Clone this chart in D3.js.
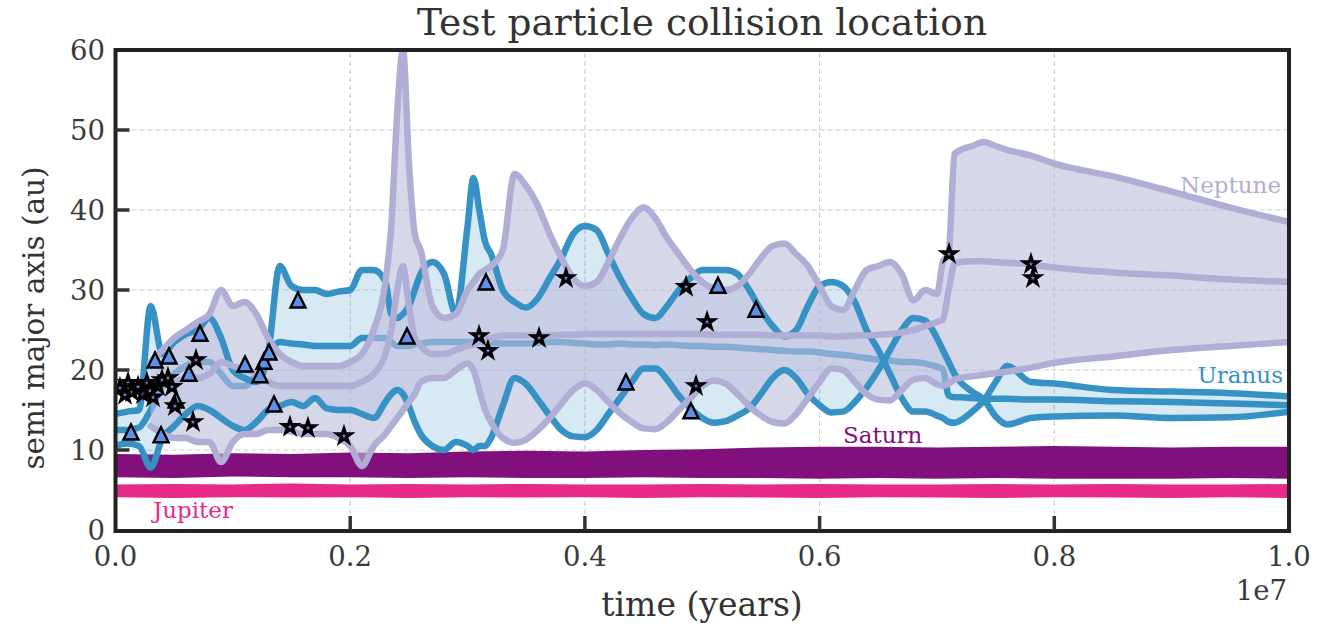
<!DOCTYPE html>
<html>
<head>
<meta charset="utf-8">
<script src="https://cdn.jsdelivr.net/npm/d3@7"></script>
<style>
  body { margin: 0; background: #fff; }
  svg text { font-family: "DejaVu Serif", serif; }
</style>
</head>
<body>
<div id="chart"></div>
<script>
// time in units of 1e7 years
const timeE7 = [0,.01,.02,.03,.04,.05,.06,.07,.08,.09,
  .10,.11,.12,.13,.14,.15,.16,.17,.18,.19,
  .20,.21,.22,.23,.235,.24,.245,.25,.255,.26,
  .27,.28,.29,.30,.305,.31,.315,.32,.33,.34,
  .35,.36,.37,.38,.39,.40,.41,.42,.43,.44,
  .45,.46,.47,.48,.49,.50,.51,.52,.53,.54,
  .55,.56,.57,.58,.59,.60,.61,.62,.63,.64,
  .65,.66,.67,.68,.69,.70,.705,.71,.715,.72,
  .73,.74,.75,.76,.78,.80,.85,.90,.95,1.0];

// Uranus: upper / semi-major axis / lower
const uranusHi = [14.5,14.8,15,28,22,23.5,24.5,25,26.5,24,
  20,19,18.5,22,33,30.5,30,30,29.5,29.8,
  30,32.5,32.5,31,27,26.5,27,28,30,32,
  33.5,32,27,38,44,40,36,34.5,30,28.5,
  27.8,29,31.5,34,37,38,37.5,34.5,31.5,29,
  27,26.5,28,30,31.5,32.5,32.5,32.5,32,30,
  27.5,25.5,24.2,25,28,30.5,31,30.5,28.5,25,
  22.5,19.5,16.5,14.8,14.8,14.3,14,13.5,13.4,13.7,
  14.8,16.2,18.5,20.5,18.5,18.3,17.5,17.3,17.1,16.7];
const uranusA = [12.5,12.5,12.8,15,18,19.5,20.5,21,21,19.5,
  18,18,19.5,22,23.5,23.3,23.2,23,23,23,
  23,24,24,24,23.5,23,23,23,23.2,23.3,
  23.5,23.5,23.5,23.5,23.5,23.5,23.4,23.4,23.3,23.3,
  23.3,23.4,23.5,23.5,23.4,23.3,23.2,23.2,23.3,23.2,
  23.2,23.1,23.2,23.1,23,23,22.9,22.9,22.8,22.7,
  22.6,22.5,22.4,22.3,22.3,22.2,22,21.9,21.7,21.5,
  21.3,21.2,21,21,20.8,20.4,20.1,16.8,16.6,16.6,
  16.5,16.4,16.4,16.4,16.3,16.3,16.1,16,15.8,15.6];
const uranusLo = [10.5,10.8,10.5,7.8,11.5,13,14.5,15.5,15,14,
  13,12.5,13.5,15,15.5,16,15.5,16.5,15.2,15,
  15,14.5,14,16,17,17.5,17,15.5,13.5,12,
  10.5,10,11,10.5,10,10.5,10.5,11.5,15.5,19,
  18.2,16.3,14.3,12.5,11.7,11.6,12.5,14.5,16.5,18.5,
  20.2,20.2,18.8,16.8,15.2,14,13.4,13.6,14.3,15.2,
  17,19,20,19,17,15.6,14.7,14.8,16,17.8,
  20,22.5,25,26.5,26.2,24,22.5,21,19.5,18.5,
  17.3,16.3,14.2,13.2,14,14.2,14.3,14,14.1,14.8];

// Neptune: upper / semi-major axis / lower
const neptuneHi = [null,null,null,21,22.5,24,25,26,27,30,
  28,28.5,27,24,22,21,20.5,20.5,20.5,20.5,
  21,22,25,31,38,52,60,46,37,35,
  28,26.5,27,30,31,32,32.5,33,35,44.5,
  43,40.5,37,34,31.5,30.5,31,33.5,36.5,39,
  40.3,39,36.5,34.5,32.5,31,30.2,30,30.5,32,
  34,35.5,35.8,34.5,33,30.5,28,27.5,30,32.5,
  33,33.5,32,28.7,30,29.5,33.5,34.6,47,47.5,
  48,48.5,48,47.5,46.8,45.8,44.2,42.3,40.3,38.5];
const neptuneA = [null,null,null,18,18.5,18.5,19,19,19.5,21,
  20.5,20,19.5,18.5,18,18,18,18,18,18,
  18,18.5,19.5,22,25,30,33,28,24,23,
  22,22,22.5,23,23.2,23.5,23.8,24,24.3,24.3,
  24.3,24.3,24.3,24.4,24.4,24.5,24.5,24.5,24.5,24.5,
  24.5,24.5,24.5,24.5,24.5,24.5,24.4,24.4,24.4,24.4,
  24.4,24.3,24.3,24.3,24.3,24.3,24.2,24.2,24.3,24.3,
  24.4,24.5,24.7,25,25.5,26,26.3,30,33.3,33.5,
  33.6,33.6,33.5,33.4,33.2,32.8,32.2,31.8,31.3,31];
const neptuneLo = [null,null,null,13,12,11.5,11.5,11,11,8.5,
  11,12,12,12.5,12.5,12.3,12,12,12,11.5,
  10.5,8,10.5,12,13,14,15,16,17,18.5,
  19,19,20,20.8,20,17.5,15,13.5,11.5,10.9,
  11.3,12.5,14,15.8,17.5,18.3,17.5,16,14.6,13.5,
  12.7,12.6,13.5,15,16.5,18,18.7,18.3,17,15.5,
  14.3,13.5,13.3,14.5,16.5,18.5,20.2,20,18.5,17,
  16.3,16.2,17.5,18.8,19,18.2,18,18.3,18.8,19,
  19.2,19.4,19.6,19.8,20.3,20.9,21.7,22.5,23,23.5];

// Saturn and Jupiter bands
const bandTime = [0,.05,.1,.15,.2,.25,.3,.35,.4,.45,.5,.55,.6,.65,.7,.75,.8,.85,.9,.95,1.0];
const saturnHi = [9.5,9.4,9.6,9.5,9.7,9.6,9.8,9.9,9.8,10.0,10.1,10.3,10.4,10.4,10.3,10.4,10.5,10.4,10.3,10.4,10.4];
const saturnLo = [6.6,6.5,6.7,6.6,6.6,6.5,6.6,6.5,6.5,6.6,6.5,6.5,6.4,6.5,6.4,6.5,6.4,6.4,6.4,6.5,6.4];
const jupiterHi = [5.7,5.75,5.7,5.8,5.7,5.75,5.7,5.75,5.7,5.7,5.75,5.7,5.75,5.7,5.7,5.75,5.7,5.75,5.7,5.7,5.75];
const jupiterLo = [4.1,4.0,4.1,4.05,4.1,4.0,4.1,4.05,4.1,4.0,4.1,4.05,4.0,4.1,4.05,4.0,4.1,4.05,4.0,4.1,4.0];

// collision markers [time (1e7 yr), a (au)]
const triangleHits = [[0.0132,12.25],[0.0388,11.9],[0.0337,21.25],[0.0456,21.75],[0.072,24.6],
  [0.0626,19.6],[0.0516,16.25],[0.1104,20.75],[0.1265,21.1],[0.1308,22.25],[0.1231,19.4],
  [0.1351,15.75],[0.1555,28.75],[0.2484,24.25],[0.3157,31],[0.435,18.5],[0.4904,14.9],
  [0.5134,30.6],[0.5458,27.6]];
const starHits = [[0.0038,17.75],[0.0081,16.9],[0.0107,18.4],[0.0141,17.25],[0.0192,17.9],
  [0.0234,17],[0.0268,18.4],[0.0294,17.4],[0.032,16.6],[0.0362,18],[0.0396,18.75],
  [0.0447,19],[0.0481,17.9],[0.0507,15.5],[0.0686,21.25],[0.066,13.5],[0.1487,12.9],
  [0.164,12.75],[0.1947,11.75],[0.3098,24.25],[0.3174,22.4],[0.3609,24],[0.3839,31.5],
  [0.4862,30.4],[0.5041,26],[0.4947,18],[0.7103,34.5],[0.7801,33.25],[0.7818,31.5]];

const xTicks = [0, 0.2, 0.4, 0.6, 0.8, 1.0];
const yTicks = [0, 10, 20, 30, 40, 50, 60];

const width = 1326, height = 624;
const x = d3.scaleLinear().domain([0, 1]).range([115.5, 1289]);
const y = d3.scaleLinear().domain([0, 60]).range([530, 50]);

const svg = d3.select("#chart").append("svg")
  .attr("width", width).attr("height", height);

svg.append("defs").append("clipPath").attr("id", "plot-clip")
  .append("rect")
  .attr("x", x(0)).attr("y", y(60))
  .attr("width", x(1) - x(0)).attr("height", y(0) - y(60));

// grid
const grid = svg.append("g")
  .attr("stroke", "#cfcfcf").attr("stroke-width", 1.2).attr("stroke-dasharray", "5,3");
grid.selectAll("line.gx").data(xTicks.slice(1, -1)).join("line")
  .attr("x1", d => x(d)).attr("x2", d => x(d)).attr("y1", y(0)).attr("y2", y(60));
grid.selectAll("line.gy").data(yTicks.slice(1, -1)).join("line")
  .attr("x1", x(0)).attr("x2", x(1)).attr("y1", d => y(d)).attr("y2", d => y(d));

const plot = svg.append("g").attr("clip-path", "url(#plot-clip)");

const bandArea = (hi, lo) => d3.area()
  .x((d, i) => x(bandTime[i]))
  .y0((d, i) => y(lo[i]))
  .y1((d, i) => y(hi[i]))
  .curve(d3.curveLinear)(bandTime);

const orbitArea = (hi, lo) => d3.area()
  .defined((d, i) => hi[i] != null)
  .x((d, i) => x(timeE7[i]))
  .y0((d, i) => y(lo[i]))
  .y1((d, i) => y(hi[i]))
  .curve(d3.curveMonotoneX)(timeE7);

const orbitLine = (vals) => d3.line()
  .defined((d, i) => vals[i] != null)
  .x((d, i) => x(timeE7[i]))
  .y((d, i) => y(vals[i]))
  .curve(d3.curveMonotoneX)(timeE7);

const uranusColor = "#3692c4", neptuneColor = "#b0aed4";
const lineW = 6.5;

// Jupiter and Saturn
plot.append("path").attr("d", bandArea(jupiterHi, jupiterLo)).attr("fill", "#e7298a");
plot.append("path").attr("d", bandArea(saturnHi, saturnLo)).attr("fill", "#810f7c");

// Uranus fill + semi major axis
plot.append("path").attr("d", orbitArea(uranusHi, uranusLo))
  .attr("fill", uranusColor).attr("fill-opacity", 0.2);
plot.append("path").attr("d", orbitLine(uranusA))
  .attr("fill", "none").attr("stroke", uranusColor).attr("stroke-width", lineW)
  .attr("stroke-linejoin", "round").attr("stroke-linecap", "round");

// Neptune fill
plot.append("path").attr("d", orbitArea(neptuneHi, neptuneLo))
  .attr("fill", "#bcbddc").attr("fill-opacity", 0.6);

// Uranus extremes
[uranusHi, uranusLo].forEach(vals => {
  plot.append("path").attr("d", orbitLine(vals))
    .attr("fill", "none").attr("stroke", uranusColor).attr("stroke-width", lineW)
    .attr("stroke-linejoin", "round").attr("stroke-linecap", "round");
});

// Neptune lines
[neptuneHi, neptuneA, neptuneLo].forEach(vals => {
  plot.append("path").attr("d", orbitLine(vals))
    .attr("fill", "none").attr("stroke", neptuneColor).attr("stroke-width", lineW)
    .attr("stroke-linejoin", "round").attr("stroke-linecap", "round");
});

// markers
plot.append("g").selectAll("path").data(triangleHits).join("path")
  .attr("transform", d => `translate(${x(d[0])},${y(d[1])})`)
  .attr("d", "M0,-7.5L7.5,7.5L-7.5,7.5Z")
  .attr("fill", "#5f8fe6").attr("stroke", "#000").attr("stroke-width", 2.4)
  .attr("stroke-linejoin", "miter");

plot.append("g").selectAll("path").data(starHits).join("path")
  .attr("transform", d => `translate(${x(d[0])},${y(d[1])})`)
  .attr("d", d3.symbol().type(d3.symbolStar).size(62))
  .attr("fill", "#9370db").attr("stroke", "#000").attr("stroke-width", 3)
  .attr("stroke-linejoin", "miter");

// planet labels
const lab = svg.append("g").attr("font-size", 23);
lab.append("text").attr("x", 153).attr("y", 518).attr("fill", "#e7298a").text("Jupiter");
lab.append("text").attr("x", 843).attr("y", 443).attr("fill", "#810f7c").text("Saturn");
lab.append("text").attr("x", 1283).attr("y", 383).attr("text-anchor", "end").attr("fill", uranusColor).text("Uranus");
lab.append("text").attr("x", 1281).attr("y", 193).attr("text-anchor", "end").attr("fill", neptuneColor).text("Neptune");

// frame
svg.append("rect")
  .attr("x", x(0)).attr("y", y(60))
  .attr("width", x(1) - x(0)).attr("height", y(0) - y(60) + 1)
  .attr("fill", "none").attr("stroke", "#222").attr("stroke-width", 4);

// ticks (inside)
const tk = svg.append("g").attr("stroke", "#333").attr("stroke-width", 3.5);
tk.selectAll("line.tx").data(xTicks.slice(1, -1)).join("line")
  .attr("x1", d => x(d)).attr("x2", d => x(d)).attr("y1", y(0)).attr("y2", y(0) - 14);
tk.selectAll("line.ty").data(yTicks.slice(1, -1)).join("line")
  .attr("y1", d => y(d)).attr("y2", d => y(d)).attr("x1", x(0)).attr("x2", x(0) + 14);

// tick labels
const tl = svg.append("g").attr("font-size", 27.5).attr("fill", "#3a3a3a");
tl.selectAll("text.xl").data(xTicks).join("text")
  .attr("x", d => x(d)).attr("y", 566).attr("text-anchor", "middle")
  .text(d3.format(".1f"));
tl.selectAll("text.yl").data(yTicks).join("text")
  .attr("x", 105).attr("y", d => y(d) + 10).attr("text-anchor", "end")
  .text(d => d);
tl.append("text").attr("x", 1287).attr("y", 600).attr("text-anchor", "end").text("1e7");

// axis titles
svg.append("text").attr("x", 702).attr("y", 35).attr("text-anchor", "middle")
  .attr("font-size", 37.5).attr("fill", "#333").text("Test particle collision location");
svg.append("text").attr("x", 702).attr("y", 616).attr("text-anchor", "middle")
  .attr("font-size", 33).attr("fill", "#333").text("time (years)");
svg.append("text").attr("transform", "translate(44,318) rotate(-90)").attr("text-anchor", "middle")
  .attr("font-size", 29.5).attr("fill", "#333").text("semi major axis (au)");
</script>
</body>
</html>
